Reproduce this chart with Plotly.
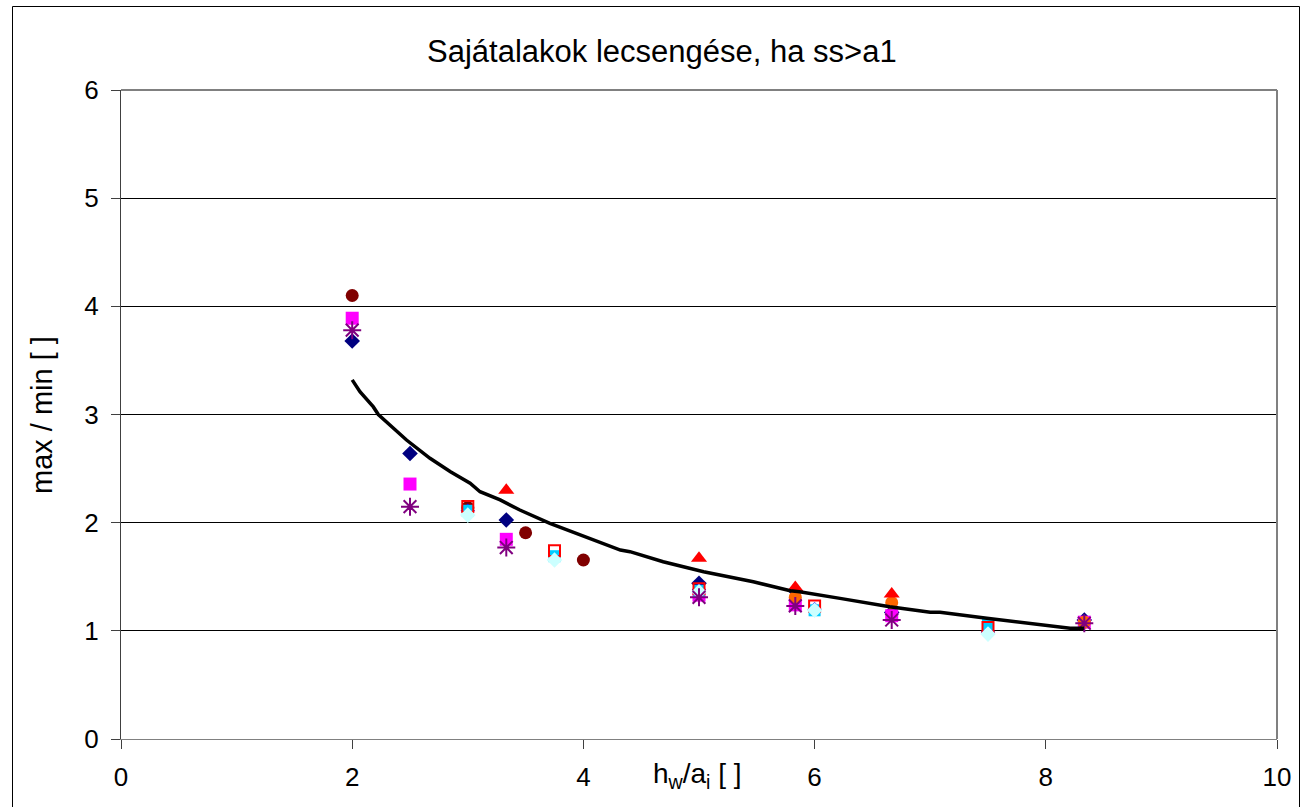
import plotly.graph_objects as go

# ---- data ----
curve_x = [2.0, 2.067, 2.183, 2.226, 2.35, 2.47, 2.673, 2.85, 3.02, 3.106, 3.28, 3.45, 3.71, 3.97, 4.32, 4.403, 4.69, 5.04, 5.47, 5.79, 5.87, 6.22, 6.65, 7.0, 7.085, 7.49, 7.86, 8.21, 8.33]
curve_y = [3.32, 3.21, 3.07, 3.0, 2.88, 2.764, 2.595, 2.47, 2.364, 2.286, 2.21, 2.117, 1.994, 1.886, 1.747, 1.732, 1.639, 1.547, 1.454, 1.37, 1.362, 1.30, 1.223, 1.171, 1.171, 1.116, 1.07, 1.023, 1.023]

maroon_x = [2.0, 3.0, 3.5, 4.0]
maroon_y = [4.10, 2.14, 1.907, 1.655]

navy_x = [2.0, 2.5, 3.333, 5.0, 5.833, 6.667, 8.333]
navy_y = [3.68, 2.64, 2.025, 1.44, 1.37, 1.17, 1.10]

magenta_x = [2.0, 2.5, 3.333, 5.0, 5.833, 6.667, 8.333]
magenta_y = [3.89, 2.357, 1.846, 1.33, 1.24, 1.14, 1.08]

orange_x = [5.833, 6.667, 8.333]
orange_y = [1.31, 1.26, 1.08]

triangle_x = [3.333, 5.0, 5.833, 6.667]
triangle_y = [2.30, 1.67, 1.40, 1.34]

blue_x = [3.0, 5.0, 6.0, 7.5]
blue_y = [2.11, 1.38, 1.20, 0.99]

skyblue_x = [3.0, 3.75, 5.0, 6.0, 7.5]
skyblue_y = [2.11, 1.69, 1.37, 1.19, 1.06]

redsq_x = [3.0, 3.75, 5.0, 6.0, 7.5]
redsq_y = [2.15, 1.74, 1.39, 1.23, 1.03]

cyan_x = [3.0, 3.75, 5.0, 6.0, 7.5]
cyan_y = [2.07, 1.655, 1.36, 1.19, 0.97]

star_x = [2.0, 2.5, 3.333, 5.0, 5.833, 6.667, 8.333]
star_y = [3.78, 2.148, 1.77, 1.31, 1.23, 1.10, 1.07]

x_ticks = [0, 2, 4, 6, 8, 10]
y_ticks = [0, 1, 2, 3, 4, 5, 6]

title_text = "Sajátalakok lecsengése, ha ss>a1"
x_title = "h<sub>w</sub>/a<sub>i</sub> [ ]"
y_title = "max / min [ ]"

FONT = "Liberation Sans, Arial, sans-serif"

fig = go.Figure()

def add(x, y, symbol, color, size, line_color=None, line_width=0):
    fig.add_trace(go.Scatter(
        x=x, y=y, mode="markers",
        marker=dict(symbol=symbol, color=color, size=size,
                    line=dict(color=line_color or color, width=line_width)),
        showlegend=False, hoverinfo="x+y"))

add(maroon_x, maroon_y, "circle", "#800000", 13)
add(navy_x, navy_y, "diamond", "#000080", 12)
add(magenta_x, magenta_y, "square", "#FF00FF", 13)
add(orange_x, orange_y, "circle", "#FF6600", 13)
add(triangle_x, triangle_y, "triangle-up", "#FF0000", 14)
add(blue_x, blue_y, "diamond", "#0000FF", 11)
add(skyblue_x, skyblue_y, "square", "#00CCFF", 12)
add(redsq_x, redsq_y, "square-open", "#FF0000", 11, "#FF0000", 2)
add(cyan_x, cyan_y, "diamond", "#CCFFFF", 12)
add(star_x, star_y, "asterisk-open", "#800080", 15, "#800080", 2)

fig.add_trace(go.Scatter(x=curve_x, y=curve_y, mode="lines",
                         line=dict(color="black", width=3.5),
                         showlegend=False, hoverinfo="skip"))

fig.update_layout(
    width=1304, height=807,
    margin=dict(l=121, r=27, t=90, b=68),
    paper_bgcolor="white", plot_bgcolor="white",
    font=dict(family=FONT, size=26, color="black"),
    xaxis=dict(range=[0, 10], tickvals=x_ticks, showgrid=False, zeroline=False,
               showline=True, linecolor="#808080", linewidth=1,
               ticks="outside", ticklen=9, tickcolor="#404040",
               tickfont=dict(size=26), ticklabelstandoff=6),
    yaxis=dict(range=[0, 6], tickvals=y_ticks, showgrid=True, gridcolor="black",
               gridwidth=1, zeroline=False,
               showline=True, linecolor="#404040", linewidth=1,
               ticks="outside", ticklen=9, tickcolor="#404040",
               tickfont=dict(size=26), ticklabelstandoff=7),
    shapes=[
        # plot area border (top/right)
        dict(type="line", xref="paper", yref="paper", x0=0, x1=1, y0=1, y1=1,
             line=dict(color="#808080", width=2)),
        dict(type="line", xref="paper", yref="paper", x0=1, x1=1, y0=0, y1=1,
             line=dict(color="#808080", width=2)),
        # chart border
        dict(type="rect", xref="paper", yref="paper",
             x0=(12.5 - 121) / 1156, x1=(1299.5 - 121) / 1156,
             y0=(739 - 830) / 649, y1=(739 - 6.5) / 649,
             line=dict(color="black", width=1), layer="below"),
    ],
    annotations=[
        dict(text=title_text, xref="paper", yref="paper",
             x=(662 - 121) / 1156, y=(739 - 52) / 649, showarrow=False,
             font=dict(size=31), xanchor="center", yanchor="middle"),
        dict(text=x_title, xref="paper", yref="paper",
             x=(697 - 121) / 1156, y=(739 - 775) / 649, showarrow=False,
             font=dict(size=28), xanchor="center", yanchor="middle"),
        dict(text=y_title, xref="paper", yref="paper",
             x=(42 - 121) / 1156, y=(739 - 415) / 649, showarrow=False,
             textangle=-90, font=dict(size=29), xanchor="center", yanchor="middle"),
    ],
)

fig.write_html("out.html")
